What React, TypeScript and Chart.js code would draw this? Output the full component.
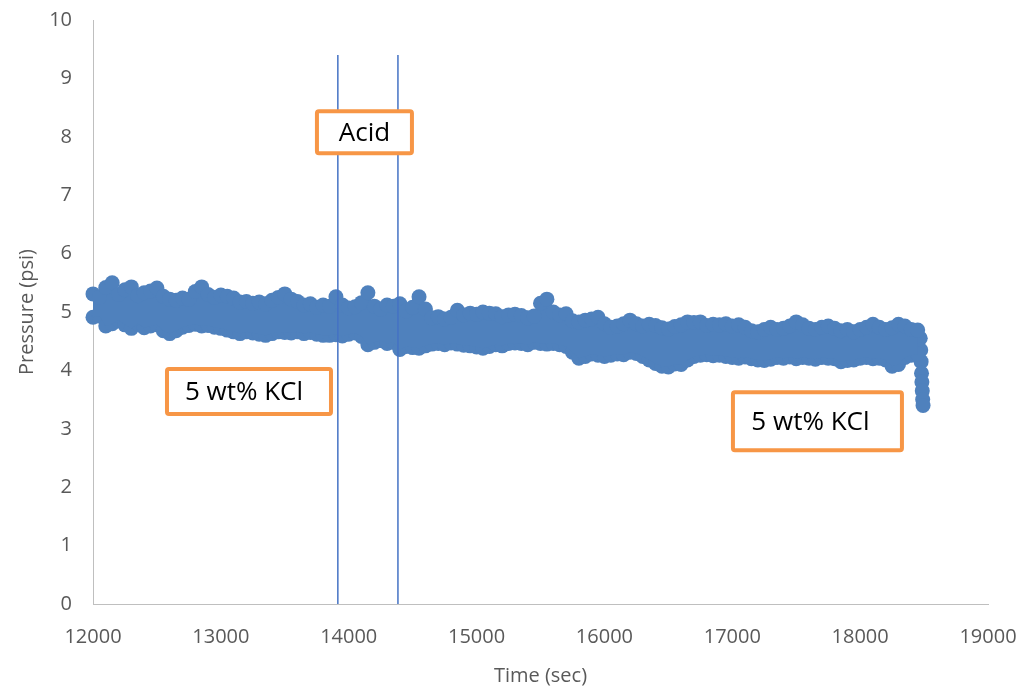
import { useEffect, useRef } from 'react';
import { Chart, registerables } from 'chart.js';

Chart.register(...registerables);

// Sampling times of the pressure log (sec)
const sampleTimes = [
  12000, 12050, 12100, 12150, 12200, 12250, 12300, 12350, 12400, 12450,
  12500, 12550, 12600, 12650, 12700, 12750, 12800, 12850, 12900, 12950,
  13000, 13050, 13100, 13150, 13200, 13250, 13300, 13350, 13400, 13450,
  13500, 13550, 13600, 13650, 13700, 13750, 13800, 13850, 13900, 13950,
  14000, 14050, 14100, 14150, 14200, 14250, 14300, 14350, 14400, 14450,
  14500, 14550, 14600, 14650, 14700, 14750, 14800, 14850, 14900, 14950,
  15000, 15050, 15100, 15150, 15200, 15250, 15300, 15350, 15400, 15450,
  15500, 15550, 15600, 15650, 15700, 15750, 15800, 15850, 15900, 15950,
  16000, 16050, 16100, 16150, 16200, 16250, 16300, 16350, 16400, 16450,
  16500, 16550, 16600, 16650, 16700, 16750, 16800, 16850, 16900, 16950,
  17000, 17050, 17100, 17150, 17200, 17250, 17300, 17350, 17400, 17450,
  17500, 17550, 17600, 17650, 17700, 17750, 17800, 17850, 17900, 17950,
  18000, 18050, 18100, 18150, 18200, 18250, 18300, 18350, 18400, 18450,
];

// High readings within each sampling window (psi)
const highPressure = [
  5.31, 5.25, 5.42, 5.50, 5.30, 5.38, 5.43, 5.28, 5.33, 5.36,
  5.41, 5.27, 5.22, 5.20, 5.24, 5.22, 5.35, 5.43, 5.30, 5.25,
  5.29, 5.27, 5.24, 5.17, 5.18, 5.15, 5.17, 5.14, 5.20, 5.25,
  5.31, 5.22, 5.18, 5.12, 5.14, 5.08, 5.12, 5.10, 5.26, 5.12,
  5.07, 5.09, 5.16, 5.33, 5.10, 5.05, 5.12, 5.10, 5.14, 5.02,
  5.08, 5.26, 5.05, 4.90, 4.92, 4.88, 4.91, 5.03, 4.95, 4.98,
  4.96, 5.00, 4.98, 4.97, 4.92, 4.95, 4.96, 4.94, 4.90, 4.93,
  5.15, 5.22, 5.00, 4.95, 4.97, 4.85, 4.83, 4.86, 4.88, 4.91,
  4.80, 4.74, 4.76, 4.80, 4.86, 4.80, 4.76, 4.79, 4.77, 4.73,
  4.71, 4.75, 4.78, 4.83, 4.82, 4.83, 4.77, 4.79, 4.78, 4.80,
  4.76, 4.78, 4.74, 4.68, 4.66, 4.70, 4.74, 4.70, 4.72, 4.76,
  4.83, 4.78, 4.72, 4.70, 4.74, 4.76, 4.72, 4.68, 4.70, 4.66,
  4.70, 4.74, 4.79, 4.74, 4.70, 4.73, 4.79, 4.76, 4.70, 4.69,
];

// Low readings within each sampling window (psi)
const lowPressure = [
  4.91, 4.93, 4.76, 4.80, 4.86, 4.78, 4.72, 4.80, 4.73, 4.76,
  4.78, 4.68, 4.63, 4.68, 4.74, 4.77, 4.79, 4.76, 4.77, 4.74,
  4.72, 4.69, 4.66, 4.63, 4.66, 4.64, 4.62, 4.60, 4.63, 4.66,
  4.65, 4.64, 4.66, 4.63, 4.65, 4.62, 4.60, 4.60, 4.61, 4.59,
  4.62, 4.64, 4.58, 4.44, 4.48, 4.51, 4.46, 4.48, 4.36, 4.41,
  4.39, 4.38, 4.42, 4.45, 4.46, 4.44, 4.47, 4.45, 4.43, 4.42,
  4.40, 4.38, 4.41, 4.44, 4.42, 4.46, 4.47, 4.46, 4.44, 4.48,
  4.46, 4.45, 4.46, 4.44, 4.41, 4.31, 4.21, 4.24, 4.28, 4.26,
  4.24, 4.26, 4.28, 4.27, 4.31, 4.29, 4.24, 4.18, 4.12, 4.07,
  4.06, 4.11, 4.10, 4.18, 4.24, 4.26, 4.27, 4.25, 4.26, 4.24,
  4.22, 4.21, 4.23, 4.20, 4.18, 4.17, 4.19, 4.22, 4.21, 4.23,
  4.20, 4.22, 4.21, 4.19, 4.22, 4.21, 4.20, 4.15, 4.17, 4.18,
  4.21, 4.22, 4.20, 4.21, 4.18, 4.07, 4.10, 4.22, 4.26, 4.28,
];

// Pressure release at the end of the test
const releaseTimes = [18470, 18474, 18477, 18480, 18483, 18486, 18489, 18492];
const releasePressure = [4.55, 4.35, 4.15, 3.95, 3.80, 3.65, 3.50, 3.40];

// Acid injection window (sec) and marker height (psi)
const acidStart = 13915;
const acidEnd = 14385;
const markerTop = 9.4;

// Note boxes: text, anchor time (sec), anchor pressure (psi)
const noteLabels = ['Acid', '5 wt% KCl', '5 wt% KCl'];
const noteTimes = [14123, 13220, 17666];
const notePressures = [8.08, 3.64, 3.13];

const noteBoxStyle = [
  { w: 99, h: 46, dx: 0 },
  { w: 168, h: 49, dx: -5 },
  { w: 173, h: 62, dx: -7 },
];

const xTicks = [12000, 13000, 14000, 15000, 16000, 17000, 18000, 19000];
const yTicks = [0, 1, 2, 3, 4, 5, 6, 7, 8, 9, 10];

const FONT = "'Open Sans', sans-serif";
const AXIS_TEXT = '#595959';
const POINT_BLUE = '#4F81BD';
const MARKER_BLUE = '#4472C4';
const NOTE_ORANGE = '#F79646';
const POINT_R = 7.5;

const noteBoxes = {
  id: 'noteBoxes',
  afterDatasetsDraw(chart: any) {
    const { ctx } = chart;
    const xs = chart.scales.x;
    const ys = chart.scales.y;
    noteLabels.forEach((label, i) => {
      const cx = xs.getPixelForValue(noteTimes[i]);
      const cy = ys.getPixelForValue(notePressures[i]);
      const { w, h, dx } = noteBoxStyle[i];
      ctx.save();
      ctx.lineWidth = 4;
      ctx.strokeStyle = NOTE_ORANGE;
      ctx.fillStyle = '#ffffff';
      ctx.beginPath();
      ctx.roundRect(cx - w / 2 + 2, cy - h / 2 + 2, w - 4, h - 4, 2);
      ctx.fill();
      ctx.stroke();
      ctx.fillStyle = '#000000';
      ctx.font = `26px ${FONT}`;
      ctx.textAlign = 'center';
      ctx.textBaseline = 'middle';
      ctx.fillText(label, cx + dx, cy + 1);
      ctx.restore();
    });
  },
};

export default function App() {
  const canvasRef = useRef<HTMLCanvasElement>(null);

  useEffect(() => {
    if (!canvasRef.current) return;
    const high = sampleTimes.map((t, i) => ({ x: t, y: highPressure[i] }));
    const low = sampleTimes.map((t, i) => ({ x: t, y: lowPressure[i] }));
    const release = releaseTimes.map((t, i) => ({ x: t, y: releasePressure[i] }));

    const chart = new Chart(canvasRef.current, {
      type: 'line',
      data: {
        datasets: [
          {
            label: 'Acid start',
            data: [{ x: acidStart, y: 0 }, { x: acidStart, y: markerTop }],
            borderColor: MARKER_BLUE,
            borderWidth: 1.5,
            pointRadius: 0,
            fill: false,
            order: 0,
          },
          {
            label: 'Acid end',
            data: [{ x: acidEnd, y: 0 }, { x: acidEnd, y: markerTop }],
            borderColor: MARKER_BLUE,
            borderWidth: 1.5,
            pointRadius: 0,
            fill: false,
            order: 0,
          },
          {
            label: 'Pressure high',
            data: high,
            borderWidth: 0,
            pointRadius: POINT_R,
            pointBorderWidth: 0,
            pointBackgroundColor: POINT_BLUE,
            backgroundColor: POINT_BLUE,
            fill: '+1',
            tension: 0,
            clip: false,
            order: 1,
          },
          {
            label: 'Pressure low',
            data: low,
            borderWidth: 0,
            pointRadius: POINT_R,
            pointBorderWidth: 0,
            pointBackgroundColor: POINT_BLUE,
            backgroundColor: POINT_BLUE,
            fill: false,
            showLine: false,
            clip: false,
            order: 1,
          },
          {
            label: 'Release',
            data: release,
            borderWidth: 0,
            pointRadius: POINT_R,
            pointBorderWidth: 0,
            pointBackgroundColor: POINT_BLUE,
            fill: false,
            showLine: false,
            clip: false,
            order: 1,
          },
        ],
      },
      options: {
        responsive: false,
        animation: false,
        layout: { padding: { left: 0, top: 20, right: 35, bottom: 0 } },
        plugins: {
          legend: { display: false },
          tooltip: { enabled: false },
        },
        scales: {
          x: {
            type: 'linear',
            min: 12000,
            max: 19000,
            afterBuildTicks: (scale: any) => {
              scale.ticks = xTicks.map((v) => ({ value: v }));
            },
            afterFit: (scale: any) => {
              scale.height = 87;
              scale.paddingLeft = 0;
              scale.paddingRight = 0;
            },
            grid: { display: false, drawTicks: false },
            border: { display: true, color: '#BFBFBF', width: 1 },
            ticks: {
              color: AXIS_TEXT,
              font: { family: FONT, size: 20 },
              padding: 21,
              maxRotation: 0,
              callback: (v: any) => String(v),
            },
            title: {
              display: true,
              text: 'Time (sec)',
              color: AXIS_TEXT,
              font: { family: FONT, size: 20 },
              padding: { top: 0, bottom: 3 },
            },
          },
          y: {
            type: 'linear',
            min: 0,
            max: 10,
            afterBuildTicks: (scale: any) => {
              scale.ticks = yTicks.map((v) => ({ value: v }));
            },
            afterFit: (scale: any) => {
              scale.width = 93;
              scale.paddingTop = 0;
              scale.paddingBottom = 0;
            },
            grid: { display: false, drawTicks: false },
            border: { display: true, color: '#BFBFBF', width: 1 },
            ticks: {
              color: AXIS_TEXT,
              font: { family: FONT, size: 20 },
              padding: 21,
              callback: (v: any) => String(v),
            },
            title: {
              display: true,
              text: 'Pressure (psi)',
              color: AXIS_TEXT,
              font: { family: FONT, size: 20 },
              padding: { top: 15, bottom: 0 },
            },
          },
        },
      },
      plugins: [noteBoxes],
    } as any);

    return () => chart.destroy();
  }, []);

  return (
    <div style={{ position: 'absolute', left: 0, top: 0, width: 1023, height: 691, background: '#ffffff' }}>
      <canvas ref={canvasRef} width={1023} height={691} style={{ display: 'block' }} />
    </div>
  );
}
